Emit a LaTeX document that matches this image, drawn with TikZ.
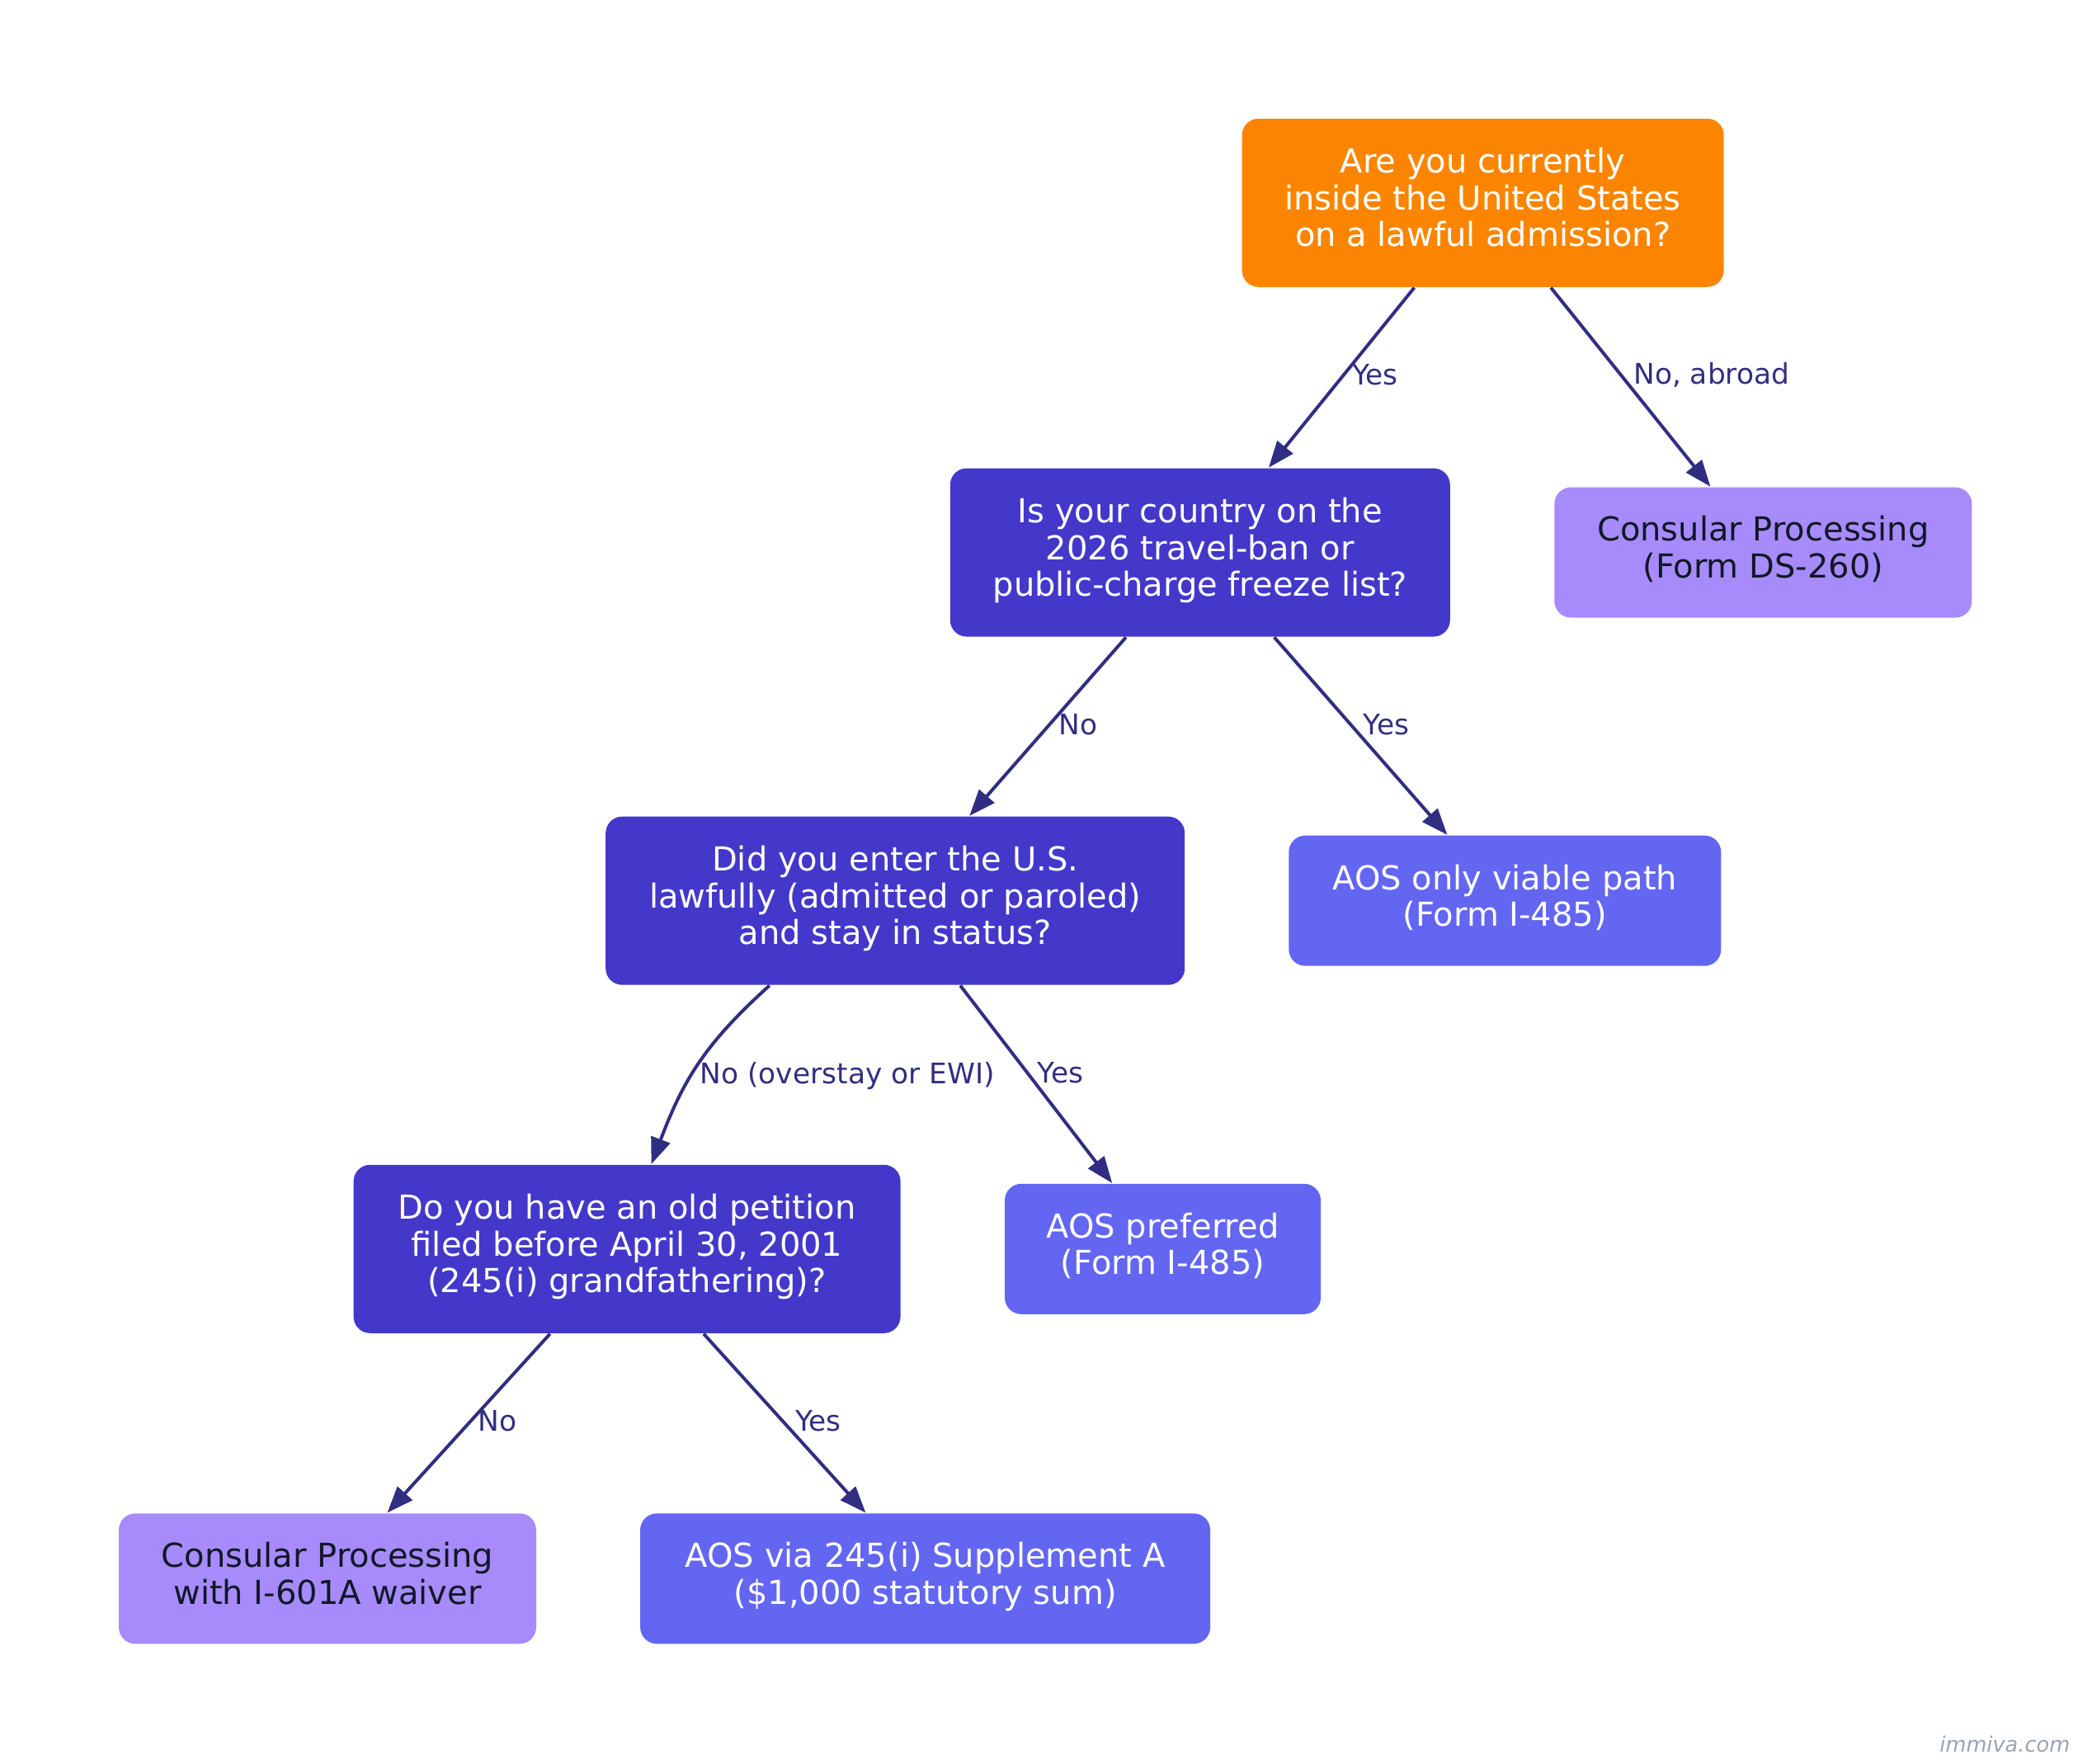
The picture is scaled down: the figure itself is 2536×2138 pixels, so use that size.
\documentclass[tikz,border=0pt]{standalone}
\usepackage{fontspec}
\setmainfont{DejaVu Sans}
\usetikzlibrary{arrows.meta}
\definecolor{orangeq}{HTML}{FB8500}
\definecolor{indigoq}{HTML}{4338CA}
\definecolor{violetr}{HTML}{A78BFA}
\definecolor{indigor}{HTML}{6366F1}
\definecolor{edgec}{HTML}{312E81}
\definecolor{darktxt}{HTML}{111827}
\definecolor{wmark}{HTML}{9CA3AF}
\tikzset{
  box/.style={rectangle, rounded corners=5pt, align=center, inner sep=0pt,
    font=\fontsize{10}{11.1}\selectfont,
    execute at begin node=\strut, execute at end node=\strut},
  qroot/.style={box, fill=orangeq, text=white, minimum height=51pt},
  qbox/.style={box, fill=indigoq, text=white, minimum height=51pt},
  cpbox/.style={box, fill=violetr, text=darktxt, minimum height=39.5pt},
  aosbox/.style={box, fill=indigor, text=white, minimum height=39.5pt},
  conn/.style={draw=edgec, line width=1pt, -{Triangle[length=8pt,width=6pt]}},
  lbl/.style={font=\fontsize{8.6}{10}\selectfont, text=edgec, anchor=west, inner sep=0pt, xshift=3.3pt},
}
\begin{document}
\begin{tikzpicture}[x=0.25pt,y=-0.25pt]
\useasboundingbox (0,0) rectangle (2536,2138);
\node[qroot, minimum width=146pt] (root) at (1797.6,245.8) {Are you currently\\inside the United States\\on a lawful admission?};
\node[qbox, minimum width=151.5pt] (q2) at (1454.8,669.6) {Is your country on the\\2026 travel-ban or\\public-charge freeze list?};
\node[cpbox, minimum width=126.5pt] (cp1) at (2137.3,669.6) {Consular Processing\\(Form DS-260)};
\node[qbox, minimum width=175.5pt] (q3) at (1085.2,1091.7) {Did you enter the U.S.\\lawfully (admitted or paroled)\\and stay in status?};
\node[aosbox, minimum width=131pt] (aos1) at (1824.3,1091.7) {AOS only viable path\\(Form I-485)};
\node[qbox, minimum width=165.75pt] (q4) at (760.1,1513.8) {Do you have an old petition\\filed before April 30, 2001\\(245(i) grandfathering)?};
\node[aosbox, minimum width=95.75pt] (aos2) at (1409.5,1513.8) {AOS preferred\\(Form I-485)};
\node[cpbox, minimum width=126.5pt] (cp2) at (397,1913.3) {Consular Processing\\with I-601A waiver};
\node[aosbox, minimum width=172.75pt] (aos3) at (1121.6,1913.3) {AOS via 245(i) Supplement A\\(\$1,000 statutory sum)};

\draw[conn] (root) -- node[lbl, pos=0.485, xshift=-1.2pt] {Yes} (q2);
\draw[conn] (root) -- node[lbl, pos=0.44] {No, abroad} (cp1);
\draw[conn] (q2) -- node[lbl, pos=0.49, xshift=-0.8pt] {No} (q3);
\draw[conn] (q2) -- node[lbl, pos=0.443] {Yes} (aos1);
\draw[conn] (q3.214) .. controls +(-80,72) and +(38,-100) .. node[lbl, pos=0.5, xshift=-2.95pt, yshift=-2.9pt] {No (overstay or EWI)} (q4.74);
\draw[conn] (q3) -- node[lbl, pos=0.443, xshift=-0.8pt] {Yes} (aos2);
\draw[conn] (q4) -- node[lbl, pos=0.489, xshift=-1.4pt] {No} (cp2);
\draw[conn] (q4) -- node[lbl, pos=0.489] {Yes} (aos3);

\node[font=\fontsize{6.4}{7.5}\selectfont\itshape, text=wmark, anchor=east, inner sep=0pt] (wm) at (2510,2114) {immiva.com};
\end{tikzpicture}
\end{document}
